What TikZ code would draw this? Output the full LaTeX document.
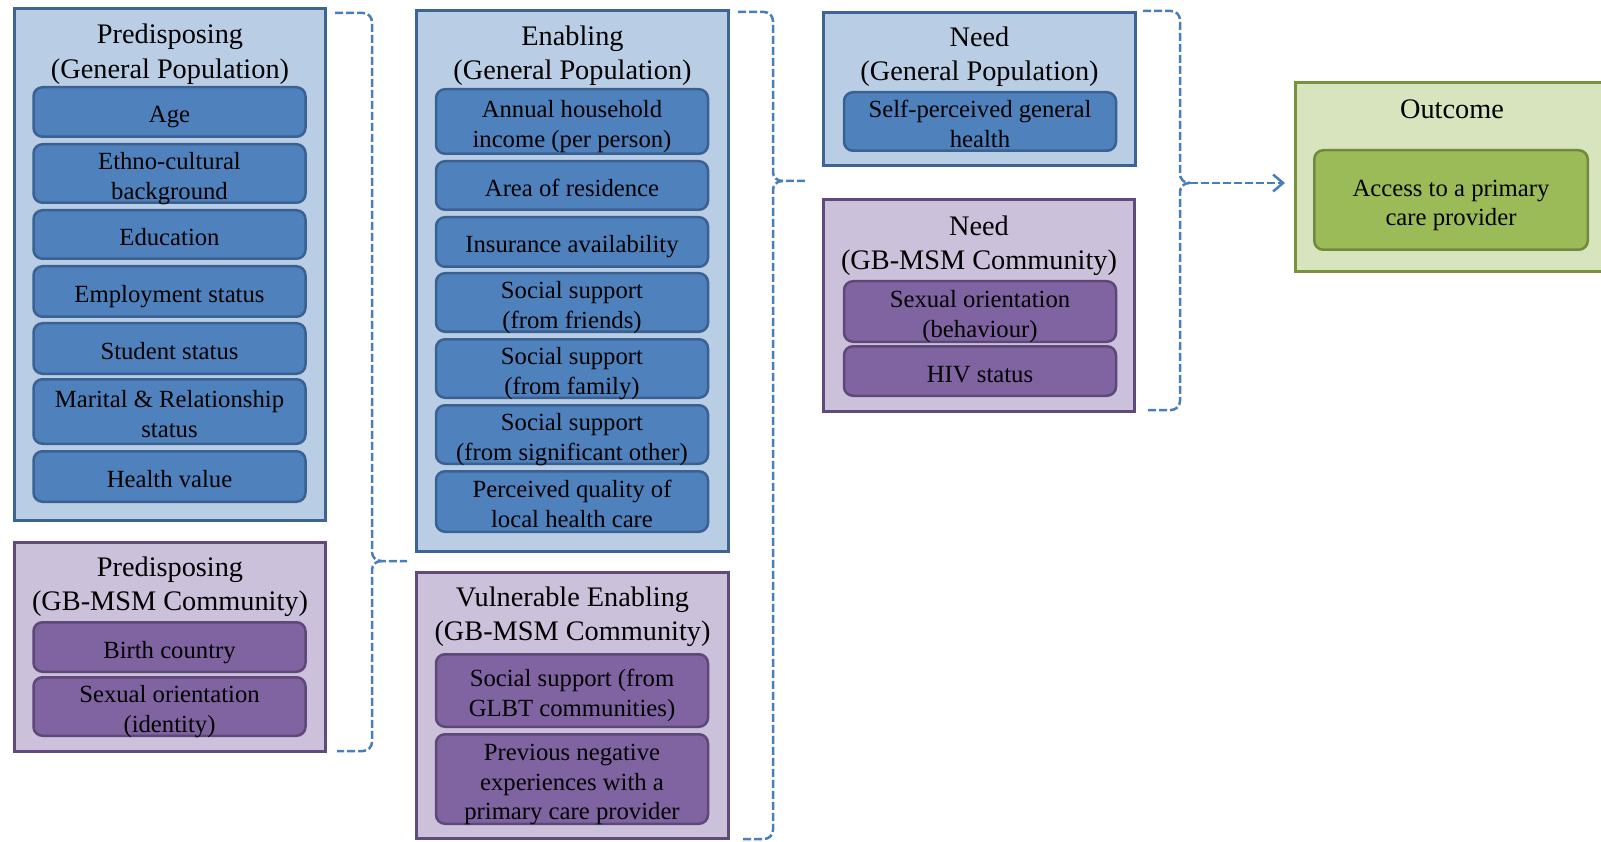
\documentclass[tikz,border=0pt]{standalone}
\usepackage{fontspec}
\setmainfont{Liberation Serif}
\newfontfamily\boxserif{Liberation Serif}
\usepackage{tikz}
\usetikzlibrary{arrows.meta,positioning}
\definecolor{gpfill}{HTML}{B9CDE5}
\definecolor{gpedge}{HTML}{3E6494}
\definecolor{gpitem}{HTML}{4F81BD}
\definecolor{gpitemedge}{HTML}{3A6192}
\definecolor{msmfill}{HTML}{CCC1DA}
\definecolor{msmedge}{HTML}{5F4A7B}
\definecolor{msmitem}{HTML}{8064A2}
\definecolor{msmitemedge}{HTML}{5D4878}
\definecolor{outfill}{HTML}{D7E4BD}
\definecolor{outedge}{HTML}{77933C}
\definecolor{outitem}{HTML}{9BBB59}
\definecolor{outitemedge}{HTML}{71893F}
\definecolor{bracecol}{HTML}{4A7EBB}
\newcommand{\grouptitlefont}{\boxserif\fontsize{28.3}{34.5}\selectfont}
\newcommand{\itemtextfont}{\boxserif\fontsize{24.7}{29.5}\selectfont}
% lowers the text a little inside its box
\newcommand{\itemlift}{\rule{0pt}{22pt}}
\tikzset{
  group/.style={line width=3pt, inner sep=0pt},
  gpgroup/.style={group, draw=gpedge, fill=gpfill},
  msmgroup/.style={group, draw=msmedge, fill=msmfill},
  outgroup/.style={group, draw=outedge, fill=outfill},
  item/.style={rounded corners=9pt, line width=2.5pt, align=center,
               inner sep=0pt, text depth=0pt, minimum width=272pt,
               font=\itemtextfont},
  gpitembox/.style={item, draw=gpitemedge, fill=gpitem},
  msmitembox/.style={item, draw=msmitemedge, fill=msmitem},
  outitembox/.style={item, draw=outitemedge, fill=outitem},
  heading/.style={align=center, inner sep=0pt, font=\grouptitlefont},
  brace/.style={draw=bracecol, line width=2.5pt, dash pattern=on 8pt off 3pt,
                rounded corners=9pt},
  flow/.style={brace, -{Straight Barb[length=10pt, width=17pt]}},
}
\begin{document}
\begin{tikzpicture}[x=1pt, y=-1pt]
  \useasboundingbox (0,0) rectangle (1601,842);

  % predisposing, general population
  \node[gpgroup, minimum width=311pt, minimum height=512pt] (predGP) at (170,264.5) {};
  \node[heading] (predGPtitle) at (170,54) {Predisposing\\(General Population)};
  \node[gpitembox, minimum height=49.5pt] (age)       at (169.5,112)   {\itemlift Age};
  \node[gpitembox, minimum height=58.5pt] (ethno)     at (169.5,173.5) {\itemlift Ethno-cultural\\background};
  \node[gpitembox, minimum height=48.5pt] (educ)      at (169.5,234.5) {\itemlift Education};
  \node[gpitembox, minimum height=50.5pt] (employ)    at (169.5,291.5) {\itemlift Employment status};
  \node[gpitembox, minimum height=50.5pt] (student)   at (169.5,348.5) {\itemlift Student status};
  \node[gpitembox, minimum height=64.5pt] (marital)   at (169.5,411.5) {\itemlift Marital \& Relationship\\status};
  \node[gpitembox, minimum height=50.5pt] (healthval) at (169.5,476.5) {\itemlift Health value};

  % predisposing, GB-MSM community
  \node[msmgroup, minimum width=311pt, minimum height=209pt] (predMSM) at (170,647) {};
  \node[heading] (predMSMtitle) at (170,586.5) {Predisposing\\(GB-MSM Community)};
  \node[msmitembox, minimum height=49.5pt] (birth) at (169.5,647)   {\itemlift Birth country};
  \node[msmitembox, minimum height=58.5pt] (sexid) at (169.5,706.5) {\itemlift Sexual orientation\\(identity)};

  % enabling, general population
  \node[gpgroup, minimum width=312pt, minimum height=541pt] (enabGP) at (572.5,281) {};
  \node[heading] (enabGPtitle) at (572.5,55.5) {Enabling\\(General Population)};
  \node[gpitembox, minimum height=64.5pt] (income)   at (572,121.5) {\itemlift Annual household\\income (per person)};
  \node[gpitembox, minimum height=48.5pt] (area)     at (572,185.5) {\itemlift Area of residence};
  \node[gpitembox, minimum height=49.5pt] (insur)    at (572,242)   {\itemlift Insurance availability};
  \node[gpitembox, minimum height=58.5pt] (friends)  at (572,302.5) {\itemlift Social support\\(from friends)};
  \node[gpitembox, minimum height=58.5pt] (family)   at (572,368.5) {\itemlift Social support\\(from family)};
  \node[gpitembox, minimum height=58.5pt] (sigother) at (572,434.5) {\itemlift Social support\\(from significant other)};
  \node[gpitembox, minimum height=60.5pt] (quality)  at (572,501.5) {\itemlift Perceived quality of\\local health care};

  % vulnerable enabling, GB-MSM community
  \node[msmgroup, minimum width=312pt, minimum height=266pt] (vulnMSM) at (572.5,705.5) {};
  \node[heading] (vulnMSMtitle) at (572.5,616.5) {Vulnerable Enabling\\(GB-MSM Community)};
  \node[msmitembox, minimum height=72.5pt] (glbt)   at (572,690.5) {\itemlift Social support (from\\GLBT communities)};
  \node[msmitembox, minimum height=89.5pt] (negexp) at (572,779)   {\itemlift Previous negative\\experiences with a\\primary care provider};

  % need
  \node[gpgroup, minimum width=312pt, minimum height=153pt] (needGP) at (979.5,89) {};
  \node[heading] (needGPtitle) at (979.5,56.5) {Need\\(General Population)};
  \node[gpitembox, minimum height=58.5pt] (selfhealth) at (980,121.5) {\itemlift Self-perceived general\\health};

  \node[msmgroup, minimum width=311pt, minimum height=212pt] (needMSM) at (979,305.5) {};
  \node[heading] (needMSMtitle) at (979,245.5) {Need\\(GB-MSM Community)};
  \node[msmitembox, minimum height=60.5pt] (sexbeh) at (980,311.5) {\itemlift Sexual orientation\\(behaviour)};
  \node[msmitembox, minimum height=49.5pt] (hiv)    at (980,371)   {\itemlift HIV status};

  % outcome
  \node[outgroup, minimum width=313pt, minimum height=189pt] (outcome) at (1452,177) {};
  \node[heading, anchor=base] (outcometitle) at (1452,119) {Outcome};
  \node[outitembox, minimum width=273.5pt, minimum height=99.5pt] (access) at (1451,200)
       {\itemlift Access to a primary\\care provider};

  % brackets
  \coordinate (b1a) at (335,13);   \coordinate (b1x) at (372,0);
  \coordinate (b1tip) at (407,561); \coordinate (b1b) at (337,751);
  \coordinate (b2a) at (738,12);   \coordinate (b2x) at (773,0);
  \coordinate (b2tip) at (806,181); \coordinate (b2b) at (743,839);
  \coordinate (b3a) at (1143,11);  \coordinate (b3x) at (1180,0);
  \coordinate (b3tip) at (1190,183); \coordinate (b3b) at (1147,410);

  \foreach \b in {b1, b2, b3} {
    \draw[brace] (\b a) -- (\b a -| \b x) -- (\b tip -| \b x) -- (\b tip);
    \draw[brace] ([xshift=10pt]\b tip -| \b x) -- (\b tip -| \b x) -- (\b b -| \b x) -- (\b b);
  }
  \draw[flow, shorten >=9pt] (b3tip) -- (b3tip -| outcome.west);
\end{tikzpicture}
\end{document}
